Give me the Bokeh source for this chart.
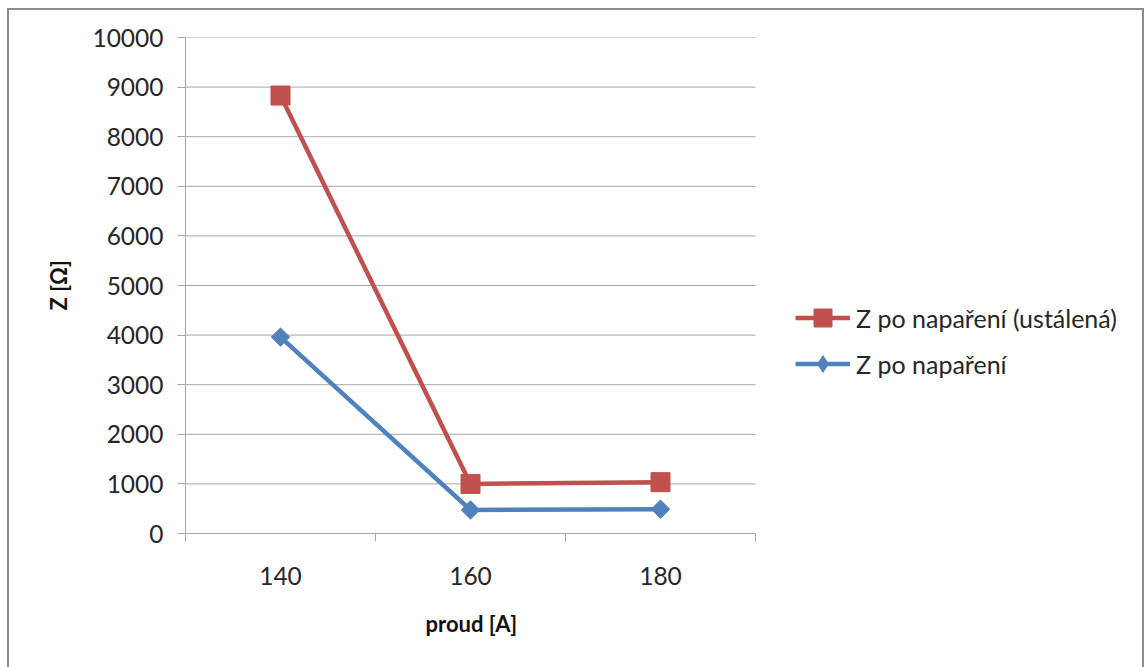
from math import pi

from bokeh.embed import file_html
from bokeh.models import FixedTicker, Legend, LegendItem, Range1d, Title
from bokeh.plotting import figure
from bokeh.resources import INLINE

# Measured impedance after vapour deposition vs. welding current
currents = [140, 160, 180]
z_steady = [8830, 1000, 1035]
z_after = [3960, 475, 490]
y_ticks = [0, 1000, 2000, 3000, 4000, 5000, 6000, 7000, 8000, 9000, 10000]
x_title = "proud [A]"
y_title = "Z [Ω]"
name_steady = "Z po napaření (ustálená)"
name_after = "Z po napaření"

RED = "#C0504D"
BLUE = "#4F81BD"
GRID = "#A6A6A6"
EDGE = "#8C8C8C"
FONT = "Lato"

W, H = 1146, 667
LEFT, TOP, BOTTOM = 185, 37, 134
CAT_PX = 190                      # horizontal pixels per category slot
x_lo, x_hi = 130, 190             # extent of the category axis
# the frame runs on to the right edge so the legend sits inside it;
# grid lines and axis are bounded to the category extent
x_view_end = x_lo + (W - LEFT) * 20 / CAT_PX

# chart frame (left, right and top edges) painted behind a transparent canvas
line = f"linear-gradient({EDGE}, {EDGE})"
frame_css = {
    "background-color": "white",
    "background-image": f"{line}, {line}, {line}",
    "background-repeat": "no-repeat",
    "background-position": "7px 8px, 1142px 8px, 7px 8px",
    "background-size": "2px 700px, 2px 700px, 1137px 2px",
}

p = figure(
    width=W, height=H,
    x_range=Range1d(x_lo, x_view_end), y_range=Range1d(0, 10000),
    output_backend="svg", toolbar_location=None,
    min_border_left=LEFT, min_border_right=0,
    min_border_top=TOP, min_border_bottom=BOTTOM,
    styles=frame_css,
)
p.outline_line_color = None
p.background_fill_alpha = 0
p.border_fill_alpha = 0

# x axis: labels at category centres, tick marks between categories
p.xaxis.ticker = FixedTicker(ticks=currents, minor_ticks=[130, 150, 170, 190])
p.xaxis.bounds = (x_lo, x_hi)
p.xaxis.major_tick_out = 0
p.xaxis.major_tick_in = 0
p.xaxis.minor_tick_out = 8
p.xaxis.minor_tick_in = 0
p.xaxis.minor_tick_line_color = GRID
p.xaxis.axis_line_color = GRID
p.xaxis.major_label_standoff = 25
p.xgrid.grid_line_color = None

p.yaxis.ticker = FixedTicker(ticks=y_ticks)
p.yaxis.major_tick_out = 8
p.yaxis.major_tick_in = 0
p.yaxis.minor_tick_line_color = None
p.yaxis.major_tick_line_color = GRID
p.yaxis.axis_line_color = GRID
p.yaxis.major_label_standoff = 14
p.yaxis.axis_label = y_title
p.yaxis.axis_label_standoff = 17
p.ygrid.grid_line_color = None

for ax in (p.xaxis, p.yaxis):
    ax.major_label_text_font = FONT
    ax.major_label_text_font_size = "24.5px"
    ax.major_label_text_color = "#262626"
    ax.axis_label_text_font = FONT
    ax.axis_label_text_font_size = "22px"
    ax.axis_label_text_font_style = "bold"
    ax.axis_label_text_color = "#111111"

# x-axis title, centred under the category span
p.add_layout(Title(text=x_title, align="left", offset=240, standoff=41,
                   text_font=FONT, text_font_size="22px",
                   text_font_style="bold", text_color="#111111"), "below")

# horizontal grid lines limited to the category extent
p.segment(x0=x_lo, x1=x_hi, y0=y_ticks, y1=y_ticks,
          line_color=GRID, line_width=1)

l_red = p.line(currents, z_steady, line_color=RED, line_width=4.5)
s_red = p.scatter(currents, z_steady, marker="square", size=19,
                  fill_color=RED, line_color=RED)
l_blue = p.line(currents, z_after, line_color=BLUE, line_width=4.5)
s_blue = p.scatter(currents, z_after, marker="square", angle=pi / 4, size=13,
                   fill_color=BLUE, line_color=BLUE)
# key glyph for the blue series: an upright diamond shown only in the legend
k_blue = p.scatter(currents, z_after, marker="diamond", size=0,
                   fill_color=BLUE, line_color=None)

legend = Legend(
    items=[LegendItem(label=name_steady, renderers=[l_red, s_red]),
           LegendItem(label=name_after, renderers=[l_blue, k_blue])],
    location=(610, 147),
    glyph_width=55, glyph_height=45, label_height=45,
    spacing=1, padding=0, margin=0, label_standoff=6,
    border_line_color=None, background_fill_alpha=0,
    label_text_font=FONT, label_text_font_size="25px",
    label_text_color="#262626",
)
p.add_layout(legend)

open("out.html", "w").write(file_html(p, INLINE))
